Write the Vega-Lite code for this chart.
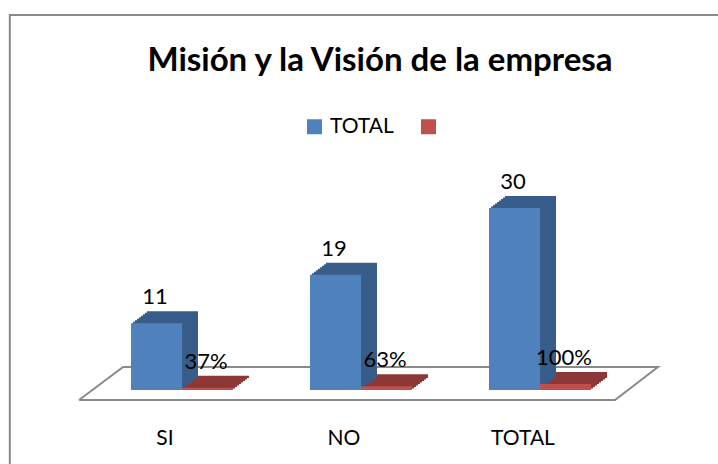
{
  "$schema": "https://vega.github.io/schema/vega-lite/v6.json",
  "autosize": {"type": "none"},
  "width": 537,
  "height": 192,
  "padding": {"left": 92.5, "top": 208, "right": 88.5, "bottom": 64},
  "background": "white",
  "config": {"view": {"stroke": null}, "font": "Lato"},
  "title": {"text": "Misión y la Visión de la empresa", "frame": "group", "anchor": "middle", "offset": -93, "baseline": "alphabetic", "fontSize": 33, "font": "Lato", "fontWeight": "bold", "dx": 19, "color": "black"},
  "datasets": {
    "bars": [
      {"cat": "SI", "serie": "TOTAL", "value": 11, "label": "11"},
      {"cat": "SI", "serie": "PCT", "value": 0.37, "label": "37%"},
      {"cat": "NO", "serie": "TOTAL", "value": 19, "label": "19"},
      {"cat": "NO", "serie": "PCT", "value": 0.63, "label": "63%"},
      {"cat": "TOTAL", "serie": "TOTAL", "value": 30, "label": "30"},
      {"cat": "TOTAL", "serie": "PCT", "value": 1, "label": "100%"}
    ],
    "frame": [
      {"g": "floor", "o": 0, "fx": -0.025, "fy": -1.65},
      {"g": "floor", "o": 1, "fx": 0.973, "fy": -1.65},
      {"g": "floor", "o": 2, "fx": 1.053, "fy": 3.79},
      {"g": "floor", "o": 3, "fx": 0.057, "fy": 3.79},
      {"g": "floor", "o": 4, "fx": -0.025, "fy": -1.65},
      {"g": "border", "o": 0, "fx": -0.154, "fy": -12.5},
      {"g": "border", "o": 1, "fx": -0.154, "fy": 61.8},
      {"g": "border", "o": 2, "fx": 1.168, "fy": 61.8}
    ]
  },
  "layer": [
    {
      "data": {"name": "frame"},
      "mark": {"type": "line", "color": "#8a8a8a", "strokeWidth": 2, "clip": false},
      "encoding": {
        "x": {"field": "fx", "type": "quantitative", "scale": {"domain": [0, 1], "nice": false, "zero": false}, "axis": null},
        "y": {"field": "fy", "type": "quantitative", "scale": {"domain": [-1.65, 30], "nice": false, "zero": false}, "axis": null},
        "detail": {"field": "g"},
        "order": {"field": "o"}
      }
    },
    {
      "data": {"name": "bars"},
      "encoding": {
        "x": {"field": "cat", "type": "nominal", "sort": null, "scale": {"paddingInner": 0.43, "paddingOuter": 0.215},
              "axis": {"title": null, "domain": false, "ticks": false, "labelAngle": 0, "labelFontSize": 21, "labelFont": "Lato", "labelColor": "black", "labelBaseline": "alphabetic", "labelPadding": 44, "labelOffset": -17}},
        "y": {"field": "value", "type": "quantitative", "scale": {"domain": [-1.65, 30], "nice": false, "zero": false}, "axis": null}
      },
      "layer": [
        {"transform": [{"filter": "datum.serie == 'PCT'"}], "mark": {"type": "bar", "width": {"band": 0.5}, "color": "#8c3836", "xOffset": 41.5, "yOffset": -12}},
        {"transform": [{"filter": "datum.serie == 'PCT'"}], "mark": {"type": "bar", "width": {"band": 0.5}, "color": "#8c3836", "xOffset": 39.5, "yOffset": -10.5}},
        {"transform": [{"filter": "datum.serie == 'PCT'"}], "mark": {"type": "bar", "width": {"band": 0.5}, "color": "#8c3836", "xOffset": 37.5, "yOffset": -9}},
        {"transform": [{"filter": "datum.serie == 'PCT'"}], "mark": {"type": "bar", "width": {"band": 0.5}, "color": "#8c3836", "xOffset": 35.5, "yOffset": -7.5}},
        {"transform": [{"filter": "datum.serie == 'PCT'"}], "mark": {"type": "bar", "width": {"band": 0.5}, "color": "#8c3836", "xOffset": 33.5, "yOffset": -6}},
        {"transform": [{"filter": "datum.serie == 'PCT'"}], "mark": {"type": "bar", "width": {"band": 0.5}, "color": "#8c3836", "xOffset": 31.5, "yOffset": -4.5}},
        {"transform": [{"filter": "datum.serie == 'PCT'"}], "mark": {"type": "bar", "width": {"band": 0.5}, "color": "#8c3836", "xOffset": 29.5, "yOffset": -3}},
        {"transform": [{"filter": "datum.serie == 'PCT'"}], "mark": {"type": "bar", "width": {"band": 0.5}, "color": "#8c3836", "xOffset": 27.5, "yOffset": -1.5}},
        {"transform": [{"filter": "datum.serie == 'TOTAL'"}], "mark": {"type": "bar", "width": {"band": 0.5}, "color": "#385d8a", "xOffset": -9.5, "yOffset": -12}},
        {"transform": [{"filter": "datum.serie == 'TOTAL'"}], "mark": {"type": "bar", "width": {"band": 0.5}, "color": "#385d8a", "xOffset": -11.5, "yOffset": -10.5}},
        {"transform": [{"filter": "datum.serie == 'TOTAL'"}], "mark": {"type": "bar", "width": {"band": 0.5}, "color": "#385d8a", "xOffset": -13.5, "yOffset": -9}},
        {"transform": [{"filter": "datum.serie == 'TOTAL'"}], "mark": {"type": "bar", "width": {"band": 0.5}, "color": "#385d8a", "xOffset": -15.5, "yOffset": -7.5}},
        {"transform": [{"filter": "datum.serie == 'TOTAL'"}], "mark": {"type": "bar", "width": {"band": 0.5}, "color": "#385d8a", "xOffset": -17.5, "yOffset": -6}},
        {"transform": [{"filter": "datum.serie == 'TOTAL'"}], "mark": {"type": "bar", "width": {"band": 0.5}, "color": "#385d8a", "xOffset": -19.5, "yOffset": -4.5}},
        {"transform": [{"filter": "datum.serie == 'TOTAL'"}], "mark": {"type": "bar", "width": {"band": 0.5}, "color": "#385d8a", "xOffset": -21.5, "yOffset": -3}},
        {"transform": [{"filter": "datum.serie == 'TOTAL'"}], "mark": {"type": "bar", "width": {"band": 0.5}, "color": "#385d8a", "xOffset": -23.5, "yOffset": -1.5}},
        {"transform": [{"filter": "datum.serie == 'PCT'"}], "mark": {"type": "bar", "width": {"band": 0.5}, "xOffset": 25.5},
         "encoding": {"color": {"field": "serie", "type": "nominal", "sort": null,
           "scale": {"domain": ["TOTAL", "PCT"], "range": ["#4f81bd", "#c0504d"]},
           "legend": {"orient": "none", "legendX": 211.5, "legendY": -92, "direction": "horizontal", "title": null, "symbolType": "square", "symbolSize": 225, "symbolStrokeWidth": 0, "symbolOpacity": 1, "labelFontSize": 21, "labelFont": "Lato", "labelColor": "black", "columnPadding": 24, "labelOffset": 5, "labelExpr": "datum.label == 'TOTAL' ? 'TOTAL' : ''"}}}},
        {"transform": [{"filter": "datum.serie == 'TOTAL'"}], "mark": {"type": "bar", "width": {"band": 0.5}, "xOffset": -25.5},
         "encoding": {"color": {"field": "serie", "type": "nominal", "sort": null,
           "scale": {"domain": ["TOTAL", "PCT"], "range": ["#4f81bd", "#c0504d"]}}}},
        {"transform": [{"filter": "datum.serie == 'TOTAL'"}], "mark": {"type": "text", "dy": -19, "xOffset": -27, "baseline": "alphabetic", "fontSize": 22, "font": "Lato", "color": "black"},
         "encoding": {"text": {"field": "label"}}},
        {"transform": [{"filter": "datum.serie == 'PCT'"}], "mark": {"type": "text", "dy": -19, "xOffset": 24, "baseline": "alphabetic", "fontSize": 22, "font": "Lato", "color": "black"},
         "encoding": {"text": {"field": "label"}}}
      ]
    }
  ],
  "resolve": {"scale": {"x": "independent"}, "axis": {"x": "independent"}}
}
